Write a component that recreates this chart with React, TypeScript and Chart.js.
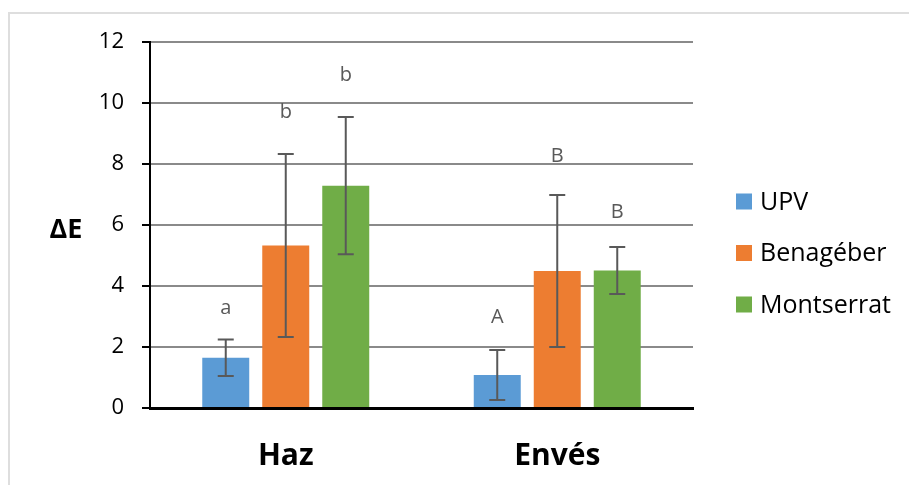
import React, { useEffect, useRef } from "react";
import { Chart, registerables } from "chart.js";

Chart.register(...registerables);

const categories = ["Haz", "Envés"];
const seriesNames = ["UPV", "Benagéber", "Montserrat"];
const seriesColors = ["#5B9BD5", "#ED7D31", "#70AD47"];
const upvValues = [1.65, 1.08];
const benageberValues = [5.33, 4.49];
const montserratValues = [7.29, 4.51];
const upvErrors = [0.6, 0.82];
const benageberErrors = [3.0, 2.49];
const montserratErrors = [2.25, 0.77];
const upvLetters = ["a", "A"];
const benageberLetters = ["b", "B"];
const montserratLetters = ["b", "B"];
const upvLetterY = [3.28, 2.96];
const benageberLetterY = [9.68, 8.24];
const montserratLetterY = [10.92, 6.42];
const yTicks = [0, 2, 4, 6, 8, 10, 12];

const allValues = [upvValues, benageberValues, montserratValues];
const allErrors = [upvErrors, benageberErrors, montserratErrors];
const allLetters = [upvLetters, benageberLetters, montserratLetters];
const allLetterY = [upvLetterY, benageberLetterY, montserratLetterY];

const FONT = "'Open Sans', 'Noto Sans', sans-serif";

const extrasPlugin = {
  id: "extras",
  afterDatasetsDraw(chart: any) {
    const ctx = chart.ctx;
    const yScale = chart.scales.y;
    ctx.save();
    chart.data.datasets.forEach((ds: any, di: number) => {
      const meta = chart.getDatasetMeta(di);
      meta.data.forEach((bar: any, i: number) => {
        const v = allValues[di][i];
        const e = allErrors[di][i];
        const x = bar.x;
        const yTop = yScale.getPixelForValue(v + e);
        const yBot = yScale.getPixelForValue(v - e);
        ctx.strokeStyle = "#595959";
        ctx.lineWidth = 2;
        ctx.beginPath();
        ctx.moveTo(x, yTop);
        ctx.lineTo(x, yBot);
        ctx.moveTo(x - 8, yTop);
        ctx.lineTo(x + 8, yTop);
        ctx.moveTo(x - 8, yBot);
        ctx.lineTo(x + 8, yBot);
        ctx.stroke();
        ctx.fillStyle = "#595959";
        ctx.font = `20px ${FONT}`;
        ctx.textAlign = "center";
        ctx.textBaseline = "middle";
        ctx.fillText(allLetters[di][i], x, yScale.getPixelForValue(allLetterY[di][i]));
      });
    });
    const area = chart.chartArea;
    // Y label
    ctx.fillStyle = "#000";
    ctx.font = `bold 27px ${FONT}`;
    ctx.textAlign = "center";
    ctx.textBaseline = "middle";
    ctx.fillText("ΔE", area.left - 84, (area.top + area.bottom) / 2 + 5);
    // Legend
    const lx = area.right + 43;
    const midY = (area.top + area.bottom) / 2 + 28;
    const spacing = 51.5;
    ctx.font = `25px ${FONT}`;
    ctx.textAlign = "left";
    seriesNames.forEach((name, i) => {
      const cy = midY + (i - 1) * spacing;
      ctx.fillStyle = seriesColors[i];
      ctx.fillRect(lx, cy - 8, 16, 16);
      ctx.fillStyle = "#000";
      ctx.fillText(name, lx + 24, cy + 1);
    });
    ctx.restore();
  },
};

export default function App() {
  const ref = useRef<HTMLCanvasElement | null>(null);
  useEffect(() => {
    if (!ref.current) return;
    const chart = new Chart(ref.current, {
      type: "bar",
      data: {
        labels: categories,
        datasets: seriesNames.map((name, i) => ({
          label: name,
          data: allValues[i],
          backgroundColor: seriesColors[i],
          categoryPercentage: 0.663,
          barPercentage: 0.783,
        })),
      },
      options: {
        animation: false,
        responsive: true,
        maintainAspectRatio: false,
        layout: { padding: { left: 0, top: 42, right: 216, bottom: 0 } },
        plugins: {
          legend: { display: false },
          tooltip: { enabled: false },
        },
        scales: {
          x: {
            grid: { display: true, drawOnChartArea: false, drawTicks: false },
            border: { display: true, color: "#000", width: 3 },
            ticks: {
              color: "#000",
              font: { family: FONT, size: 30, weight: "bold" },
              padding: 30,
            },
            afterFit: (scale: any) => {
              scale.height = 77;
            },
          },
          y: {
            min: 0,
            max: 12,
            afterBuildTicks: (scale: any) => {
              scale.ticks = yTicks.map((v) => ({ value: v }));
            },
            grid: {
              color: "#8a8a8a",
              lineWidth: 2,
              tickColor: "#000",
              tickLength: 8,
              drawTicks: true,
            },
            border: { display: true, color: "#000", width: 2 },
            ticks: {
              color: "#000",
              font: { family: FONT, size: 22 },
              padding: 18,
            },
            afterFit: (scale: any) => {
              scale.width = 150;
            },
          },
        },
      },
      plugins: [extrasPlugin],
    });
    return () => chart.destroy();
  }, []);
  return (
    <div style={{ position: "fixed", left: 0, top: 0, width: 909, height: 485, background: "#fff", overflow: "hidden" }}>
      <canvas ref={ref} />
      <div
        style={{
          position: "absolute",
          left: 8,
          top: 12,
          width: 920,
          height: 500,
          borderLeft: "2px solid #dedede",
          borderTop: "2px solid #dedede",
          pointerEvents: "none",
        }}
      />
    </div>
  );
}
